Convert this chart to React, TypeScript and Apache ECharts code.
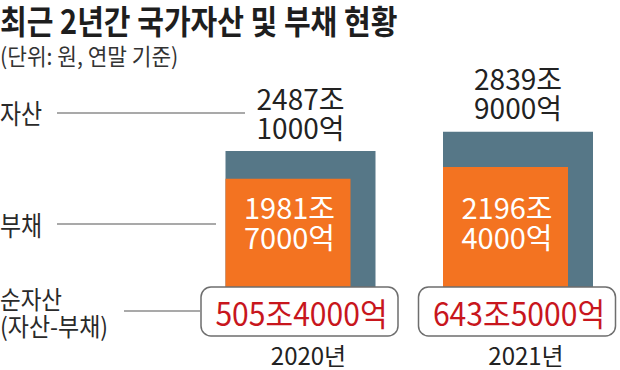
import React, { useEffect, useRef } from "react";
import * as echarts from "echarts";

const years = ["2020년", "2021년"];
const assets = [2487.1, 2839.9]; // 조 원
const liabilities = [1981.7, 2196.4]; // 조 원
const netAssets = [505.4, 643.5]; // 조 원
const rowLabels = ["자산", "부채", "순자산", "(자산-부채)"];
const titleText = "최근 2년간 국가자산 및 부채 현황";
const subtitleText = "(단위: 원, 연말 기준)";

const FONT = '"Noto Sans CJK KR", "Noto Sans", sans-serif';

function fmt(v: number, sep: string): string {
  const jo = Math.floor(v + 1e-9);
  const eok = Math.round((v - jo) * 10) * 1000;
  return `${jo}조${sep}${eok}억`;
}

export default function App() {
  const ref = useRef<HTMLDivElement>(null);

  useEffect(() => {
    document.body.style.margin = "0";
    if (!ref.current) return;
    const chart = echarts.init(ref.current, null, { renderer: "svg" });

    const data = years.map((_, i) => [i, assets[i], liabilities[i], netAssets[i]]);

    const renderItem = (params: any, api: any) => {
      const i = api.value(0);
      const a = api.value(1);
      const l = api.value(2);
      const n = api.value(3);
      const base = api.coord([i, 0]);
      const pa = api.coord([i, a]);
      const pl = api.coord([i, l]);
      const cx = base[0];
      const by = base[1];
      const left = cx - 75;
      return {
        type: "group",
        children: [
          {
            type: "rect",
            shape: { x: left, y: pa[1], width: 150, height: by - pa[1] },
            style: { fill: "#567787" },
          },
          {
            type: "rect",
            shape: { x: left, y: pl[1], width: 125, height: by - pl[1] },
            style: { fill: "#F37321" },
          },
          {
            type: "text",
            x: cx,
            y: pa[1] - 10,
            style: {
              text: fmt(a, "\n"),
              fill: "#222222",
              fontSize: 28,
              fontFamily: FONT,
              lineHeight: 29,
              textAlign: "center",
              textVerticalAlign: "bottom",
            },
          },
          {
            type: "text",
            x: left + 64,
            y: by - 66,
            style: {
              text: fmt(l, "\n"),
              fill: "#ffffff",
              fontSize: 29,
              fontFamily: FONT,
              lineHeight: 30,
              textAlign: "center",
              textVerticalAlign: "middle",
            },
          },
          {
            type: "rect",
            shape: { x: cx - 99.5, y: by, width: 197, height: 49, r: 10 },
            style: { fill: "#ffffff", stroke: "#6e6e6e", lineWidth: 1.5 },
          },
          {
            type: "text",
            x: cx + 1,
            y: by + 25,
            scaleX: 0.94,
            style: {
              text: fmt(n, ""),
              fill: "#C8161D",
              fontSize: 32,
              fontFamily: FONT,
              lineHeight: 32,
              textAlign: "center",
              textVerticalAlign: "middle",
            },
          },
          {
            type: "text",
            x: cx + 8,
            y: by + 67,
            style: {
              text: years[i],
              fill: "#222222",
              fontSize: 24,
              fontFamily: FONT,
              lineHeight: 24,
              textAlign: "center",
              textVerticalAlign: "middle",
            },
          },
        ],
      };
    };

    const labelStyle = (text: string, size: number) => ({
      text,
      fill: "#2a2a2a",
      fontSize: size,
      fontFamily: FONT,
      lineHeight: size,
      textAlign: "left",
      textVerticalAlign: "middle",
    });

    chart.setOption({
      animation: false,
      grid: { left: 300.5, right: 102, top: 123, bottom: 83 },
      xAxis: {
        type: "category",
        data: years,
        boundaryGap: false,
        show: false,
      },
      yAxis: { type: "value", min: 0, max: 3000, show: false },
      graphic: [
        {
          type: "text",
          x: 0,
          y: 20,
          scaleX: 0.88,
          style: {
            text: titleText,
            fill: "#1e1e1e",
            fontSize: 33,
            lineHeight: 33,
            fontWeight: "bold",
            fontFamily: FONT,
            textAlign: "left",
            textVerticalAlign: "middle",
          },
        },
        {
          type: "text",
          x: 0,
          y: 55,
          scaleX: 0.93,
          style: {
            text: subtitleText,
            fill: "#333333",
            fontSize: 23,
            lineHeight: 23,
            fontFamily: FONT,
            textAlign: "left",
            textVerticalAlign: "middle",
          },
        },
        { type: "text", x: 0, y: 112, scaleX: 0.85, style: labelStyle(rowLabels[0], 27) },
        { type: "text", x: 0, y: 224, scaleX: 0.85, style: labelStyle(rowLabels[1], 27) },
        { type: "text", x: 0, y: 298, scaleX: 0.9, style: labelStyle(rowLabels[2], 25) },
        { type: "text", x: 0, y: 325, scaleX: 0.92, style: labelStyle(rowLabels[3], 25) },
        {
          type: "line",
          shape: { x1: 57, y1: 113, x2: 245, y2: 113 },
          style: { stroke: "#555555", lineWidth: 1.2 },
        },
        {
          type: "line",
          shape: { x1: 57, y1: 224, x2: 216, y2: 224 },
          style: { stroke: "#555555", lineWidth: 1.2 },
        },
        {
          type: "line",
          shape: { x1: 124, y1: 311, x2: 200, y2: 311 },
          style: { stroke: "#555555", lineWidth: 1.2 },
        },
      ],
      series: [
        {
          type: "custom",
          renderItem,
          data,
          encode: { x: 0, y: [1, 2] },
          clip: false,
        },
      ],
    });

    return () => chart.dispose();
  }, []);

  return <div ref={ref} style={{ width: 620, height: 370 }} />;
}
